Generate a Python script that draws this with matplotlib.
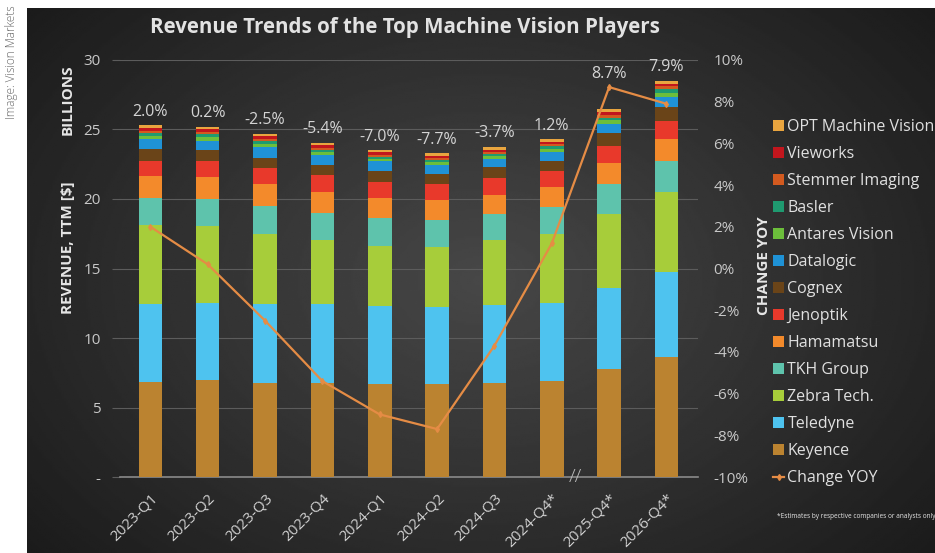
import numpy as np
import matplotlib
matplotlib.use("Agg")
import matplotlib.pyplot as plt
from matplotlib.patches import Patch
from matplotlib.lines import Line2D

plt.rcParams['font.family'] = ['Open Sans', 'DejaVu Sans']

# data (billions USD, TTM)
quarters = ["2023-Q1", "2023-Q2", "2023-Q3", "2023-Q4", "2024-Q1",
            "2024-Q2", "2024-Q3", "2024-Q4*", "2025-Q4*", "2026-Q4*"]

keyence = [6.8, 6.95, 6.75, 6.75, 6.7, 6.7, 6.75, 6.9, 7.75, 8.6]
teledyne = [5.65, 5.55, 5.7, 5.7, 5.6, 5.55, 5.6, 5.6, 5.85, 6.15]
zebra = [5.65, 5.55, 5.05, 4.6, 4.35, 4.3, 4.7, 5.0, 5.35, 5.75]
tkh = [1.95, 1.95, 2.0, 1.95, 1.95, 1.95, 1.85, 1.9, 2.1, 2.2]
hamamatsu = [1.6, 1.6, 1.6, 1.5, 1.5, 1.4, 1.4, 1.45, 1.55, 1.6]
jenoptik = [1.05, 1.1, 1.1, 1.2, 1.15, 1.15, 1.2, 1.2, 1.2, 1.3]
cognex = [0.9, 0.8, 0.75, 0.75, 0.8, 0.75, 0.8, 0.7, 0.95, 1.05]
datalogic = [0.7, 0.7, 0.8, 0.7, 0.65, 0.65, 0.6, 0.65, 0.65, 0.7]
antares = [0.25, 0.25, 0.2, 0.2, 0.2, 0.2, 0.2, 0.2, 0.25, 0.3]
basler = [0.2, 0.2, 0.2, 0.2, 0.15, 0.15, 0.15, 0.2, 0.2, 0.25]
stemmer = [0.15, 0.15, 0.15, 0.15, 0.15, 0.15, 0.15, 0.15, 0.2, 0.2]
vieworks = [0.2, 0.2, 0.2, 0.2, 0.15, 0.15, 0.15, 0.15, 0.2, 0.2]
opt = [0.2, 0.2, 0.2, 0.15, 0.15, 0.2, 0.2, 0.2, 0.2, 0.2]

change_yoy = [2.0, 0.2, -2.5, -5.4, -7.0, -7.7, -3.7, 1.2, 8.7, 7.9]

# bottom to top
series = [
    ("Keyence", keyence, "#BB8330"),
    ("Teledyne", teledyne, "#4EC3EF"),
    ("Zebra Tech.", zebra, "#A7CD3A"),
    ("TKH Group", tkh, "#5EC3AC"),
    ("Hamamatsu", hamamatsu, "#F38A2B"),
    ("Jenoptik", jenoptik, "#E8392B"),
    ("Cognex", cognex, "#6A4418"),
    ("Datalogic", datalogic, "#1F92D6"),
    ("Antares Vision", antares, "#6CBE3B"),
    ("Basler", basler, "#1F9A70"),
    ("Stemmer Imaging", stemmer, "#D35A1F"),
    ("Vieworks", vieworks, "#C2161D"),
    ("OPT Machine Vision", opt, "#E9A53F"),
]
line_color = "#E58C45"
text_color = "#d4d4d4"

fig = plt.figure(figsize=(9.35, 5.53), dpi=100)
fig.patch.set_facecolor("white")

# dark gradient panel
bg = fig.add_axes([27 / 935, 0, 1 - 27 / 935, 545 / 553], zorder=-5)
yy, xx = np.mgrid[-1:1:300j, -1:1:500j]
r = np.sqrt((xx * 0.95) ** 2 + (yy * 0.8) ** 2)
bg.imshow(0.28 - 0.14 * np.clip(r, 0, 1.3), cmap="gray", vmin=0, vmax=1,
          aspect="auto", extent=[0, 1, 0, 1])
bg.set_axis_off()

fig.text(12 / 935, 1 - 62 / 553, "Image: Vision Markets", rotation=90,
         ha="center", va="center", fontsize=8.5, color="#666666",
         fontweight="light")

ax = fig.add_axes([120 / 935, 76 / 553, 578 / 935, 417 / 553])
ax.set_facecolor("none")
x = np.arange(len(quarters))
bottom = np.zeros(len(quarters))
for name, vals, col in series:
    ax.bar(x, vals, 0.41, bottom=bottom, color=col, label=name, zorder=3)
    bottom += np.array(vals)

ax.set_xlim(-0.53, 9.55)
ax.set_ylim(0, 30)
ax.set_yticks([0, 5, 10, 15, 20, 25, 30])
ax.set_yticklabels(["-", "5", "10", "15", "20", "25", "30"])
ax.grid(axis="y", color="#5c5c5c", linewidth=0.8, zorder=0)
for s in ["top", "right", "left"]:
    ax.spines[s].set_visible(False)
ax.spines["bottom"].set_color("#8a8a8a")
ax.spines["bottom"].set_linewidth(1.2)
ax.tick_params(axis="y", colors="#5c5c5c", labelcolor="#c8c8c8",
               labelsize=11, length=6, pad=8)
ax.set_xticks(x)
ax.set_xticklabels(quarters, rotation=45, ha="right", rotation_mode="anchor",
                   fontsize=11, color="#d0d0d0")
ax.tick_params(axis="x", length=0, pad=10)

# axis break mark between 2024 and 2025
ax.text(7.42, 0, "//", ha="center", va="center", fontsize=14,
        color="#bdbdbd", fontweight="light", zorder=5)

ax2 = ax.twinx()
ax2.set_ylim(-10, 10)
ax2.set_yticks(np.arange(-10, 11, 2))
ax2.set_yticklabels([f"{v}%" for v in np.arange(-10, 11, 2)])
ax2.tick_params(axis="y", length=0, labelcolor="#c8c8c8", labelsize=11, pad=11)
for s in ax2.spines.values():
    s.set_visible(False)
ax2.plot(x, change_yoy, color=line_color, linewidth=1.6, marker="d",
         markersize=3, zorder=6)

# value labels above whichever is higher: bar or line point
for i, p in enumerate(change_yoy):
    y = max(bottom[i], (p + 10) * 1.5)
    ax.annotate(f"{p:.1f}%", (x[i], y), xytext=(0, 4), textcoords="offset points",
                ha="center", va="bottom", fontsize=11.5, color=text_color,
                zorder=7)

fig.text(405 / 935, 1 - 27 / 553, "Revenue Trends of the Top Machine Vision Players",
         ha="center", va="center", fontsize=14.8, fontweight="bold",
         color="#e2e2e2")
fig.text(68 / 935, 1 - 100 / 553, "BILLIONS", rotation=90, ha="center",
         va="center", fontsize=11, fontweight="bold", color="#e6e6e6")
fig.text(68 / 935, 1 - 248 / 553, "REVENUE, TTM [$]", rotation=90, ha="center",
         va="center", fontsize=11, fontweight="bold", color="#e6e6e6")
fig.text(764 / 935, 1 - 266 / 553, "CHANGE YOY", rotation=90, ha="center",
         va="center", fontsize=11, fontweight="bold", color="#e6e6e6")

handles = [Patch(facecolor=col, edgecolor="none") for _, _, col in series][::-1]
labels = [name for name, _, _ in series][::-1]
handles.append(Line2D([], [], color=line_color, linewidth=1.6, marker="d",
                      markersize=3))
labels.append("Change YOY")
fig.legend(handles, labels, loc="upper left", bbox_to_anchor=(773 / 935, 1 - 119 / 553),
           frameon=False, fontsize=11.5, labelcolor="#e0e0e0", handlelength=0.7,
           handleheight=0.7, handletextpad=0.2, labelspacing=0.69,
           borderpad=0, borderaxespad=0)

fig.text(777 / 935, 1 - 516 / 553,
         "*Estimates by respective companies or analysts only",
         ha="left", va="center", fontsize=4.7, color="#e6e6e6")

fig.savefig("out.png", dpi=100)
